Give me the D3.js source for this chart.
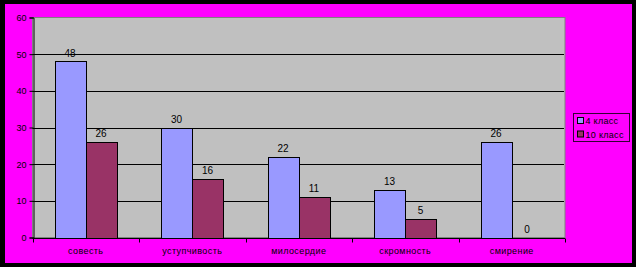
<!DOCTYPE html>
<html>
<head>
	<meta charset="utf-8">
	<title> chart </title>
	<script src="https://d3js.org/d3.v7.min.js"></script>
	<style>
		body { margin: 0; background: #000; }
		svg { display: block; }
		text { font-family: Arial, "Liberation Sans", sans-serif; fill: #000; }
	</style>
</head>
<body>
	<svg width="636" height="267"></svg>
	<script type="text/javascript">
		let categories = ["совесть", "уступчивость", "милосердие", "скромность", "смирение"];
		let seriesNames = ["4 класс", "10 класс"];
		let values4 = [48, 30, 22, 13, 26];
		let values10 = [26, 16, 11, 5, 0];
		let yTicks = [0, 10, 20, 30, 40, 50, 60];
		let colorSet = ["#9999FF", "#993366"];

		let svg = d3.select("svg");
		// black frame + magenta background
		svg.append("rect").attr("x", 0).attr("y", 0).attr("width", 636).attr("height", 267).attr("fill", "#000");
		svg.append("rect").attr("x", 5).attr("y", 4).attr("width", 627).attr("height", 259).attr("fill", "#FF00FF");

		const pLeft = 32.5, pRight = 565, pTop = 17.5, pBottom = 237.5;
		let x = d3.scaleBand().domain(categories).range([pLeft, pRight]);
		let y = d3.scaleLinear().domain([0, 60]).range([pBottom, pTop]);
		let x1 = d3.scaleBand().domain(seriesNames).range([22, x.bandwidth() - 22.5]);

		// plot area
		svg.append("rect")
			.attr("x", pLeft).attr("y", pTop)
			.attr("width", pRight - pLeft).attr("height", pBottom - pTop)
			.attr("fill", "#C0C0C0").attr("stroke", "#808080").attr("stroke-width", 1);

		// gridlines
		svg.selectAll(".grid").data(yTicks.filter(d => d > 0 && d < 60)).join("line")
			.attr("x1", pLeft).attr("x2", pRight - 1)
			.attr("y1", d => Math.round(y(d)) + 0.5).attr("y2", d => Math.round(y(d)) + 0.5)
			.attr("stroke", "#000").attr("stroke-width", 1);

		// bars
		let data = [];
		categories.forEach((c, i) => {
			data.push({ cat: c, s: seriesNames[0], v: values4[i], col: colorSet[0] });
			data.push({ cat: c, s: seriesNames[1], v: values10[i], col: colorSet[1] });
		});
		let groups = svg.append("g");
		groups.selectAll("rect").data(data.filter(d => d.v > 0)).join("rect")
			.attr("x", d => Math.round(x(d.cat) + x1(d.s)) + 0.5)
			.attr("y", d => Math.round(y(d.v)) + 0.5)
			.attr("width", Math.round(x1.bandwidth()))
			.attr("height", d => Math.round(y(0)) - Math.round(y(d.v)))
			.attr("fill", d => d.col)
			.attr("stroke", "#000").attr("stroke-width", 1);
		groups.selectAll("text").data(data).join("text")
			.attr("x", d => x(d.cat) + x1(d.s) + x1.bandwidth() / 2)
			.attr("y", d => y(d.v) - 5)
			.attr("text-anchor", "middle")
			.attr("font-size", 10)
			.text(d => d.v);

		// axes
		let yAxis = d3.axisLeft(y).tickValues(yTicks).tickSize(4).tickPadding(3);
		let gy = svg.append("g").attr("transform", "translate(" + (Math.round(pLeft) + 0.5) + ",0)").call(yAxis);
		gy.select(".domain").attr("stroke", "#000");
		gy.selectAll("text").attr("font-size", 9).attr("font-family", "Arial, sans-serif");

		let xAxis = d3.axisBottom(x).tickSize(0).tickPadding(0).tickFormat("");
		let gx = svg.append("g").attr("transform", "translate(0," + (Math.round(pBottom) + 0.5) + ")").call(xAxis);
		gx.select(".domain").attr("stroke", "#000").attr("d", "M" + pLeft + ",0H" + pRight);
		let bounds = categories.map(c => x(c)).concat([pRight]);
		gx.selectAll(".sep").data(bounds).join("line")
			.attr("x1", d => Math.round(d) + 0.5).attr("x2", d => Math.round(d) + 0.5)
			.attr("y1", 0).attr("y2", 4).attr("stroke", "#000");
		gx.selectAll(".lab").data(categories).join("text")
			.attr("x", d => x(d) + x.bandwidth() / 2)
			.attr("y", 15)
			.attr("text-anchor", "middle")
			.attr("font-size", 9)
			.attr("letter-spacing", 0.4)
			.text(d => d);

		// legend
		let lg = svg.append("g");
		lg.append("rect").attr("x", 573.5).attr("y", 113.5).attr("width", 56).attr("height", 28)
			.attr("fill", "none").attr("stroke", "#330033").attr("stroke-width", 1);
		seriesNames.forEach((s, i) => {
			lg.append("rect").attr("x", 577.5).attr("y", 117.5 + i * 13.5).attr("width", 6).attr("height", 6)
				.attr("fill", colorSet[i]).attr("stroke", "#000");
			lg.append("text").attr("x", 585.5).attr("y", 124 + i * 13.5)
				.attr("font-size", 9).attr("letter-spacing", 0.3).text(s);
		});
	</script>
</body>
</html>
